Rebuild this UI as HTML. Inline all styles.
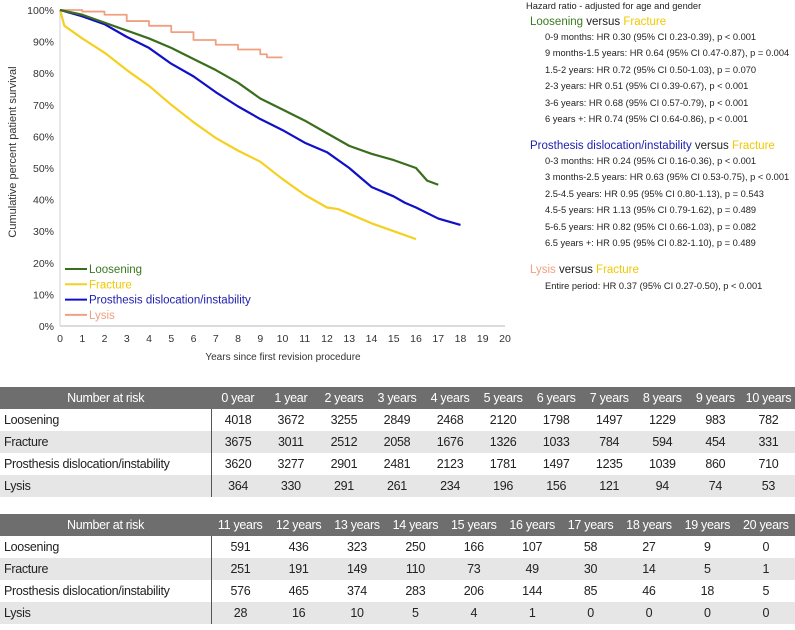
<!DOCTYPE html>
<html><head><meta charset="utf-8">
<style>
body{margin:0;width:795px;height:630px;background:#fff;font-family:"Liberation Sans",sans-serif;overflow:hidden;position:relative}
.rp{position:absolute;left:0;top:0;font-size:9.3px;color:#222;white-space:nowrap}
.rp div{position:absolute}
.h{font-size:11.5px}
table{position:absolute;left:0;border-collapse:collapse;table-layout:fixed;width:795px;font-size:12.5px;letter-spacing:-0.3px;color:#222}
td,th{padding:0;height:22px;text-align:center;white-space:nowrap;overflow:hidden}
th{background:#6e6e6e;color:#fff;font-weight:normal}
td:first-child{text-align:left;padding-left:4px;border-right:1px solid #555}
tr.g td{background:#e6e6e6}
</style></head><body>
<svg id="chart" width="520" height="370" style="position:absolute;left:0;top:0"></svg>

<div class="rp">
<div style="left:526px;top:1px">Hazard ratio - adjusted for age and gender</div>
<div class="h" style="left:530px;top:16px"><span style="color:#3a7a1f">Loosening</span> versus <span style="color:#f0c800">Fracture</span></div>
<div style="left:545px;top:32px">0-9 months: HR 0.30 (95% CI 0.23-0.39), p &lt; 0.001</div>
<div style="left:545px;top:48px">9 months-1.5 years: HR 0.64 (95% CI 0.47-0.87), p = 0.004</div>
<div style="left:545px;top:65px">1.5-2 years: HR 0.72 (95% CI 0.50-1.03), p = 0.070</div>
<div style="left:545px;top:81px">2-3 years: HR 0.51 (95% CI 0.39-0.67), p &lt; 0.001</div>
<div style="left:545px;top:98px">3-6 years: HR 0.68 (95% CI 0.57-0.79), p &lt; 0.001</div>
<div style="left:545px;top:114px">6 years +: HR 0.74 (95% CI 0.64-0.86), p &lt; 0.001</div>
<div class="h" style="left:530px;top:140px"><span style="color:#2020b0">Prosthesis dislocation/instability</span> versus <span style="color:#f0c800">Fracture</span></div>
<div style="left:545px;top:156px">0-3 months: HR 0.24 (95% CI 0.16-0.36), p &lt; 0.001</div>
<div style="left:545px;top:172px">3 months-2.5 years: HR 0.63 (95% CI 0.53-0.75), p &lt; 0.001</div>
<div style="left:545px;top:189px">2.5-4.5 years: HR 0.95 (95% CI 0.80-1.13), p = 0.543</div>
<div style="left:545px;top:205px">4.5-5 years: HR 1.13 (95% CI 0.79-1.62), p = 0.489</div>
<div style="left:545px;top:222px">5-6.5 years: HR 0.82 (95% CI 0.66-1.03), p = 0.082</div>
<div style="left:545px;top:238px">6.5 years +: HR 0.95 (95% CI 0.82-1.10), p = 0.489</div>
<div class="h" style="left:530px;top:264px"><span style="color:#f0a080">Lysis</span> versus <span style="color:#f0c800">Fracture</span></div>
<div style="left:545px;top:281px">Entire period: HR 0.37 (95% CI 0.27-0.50), p &lt; 0.001</div>
</div>

<table style="top:387px">
<colgroup><col style="width:211px"><col span="11" style="width:53px"></colgroup>
<tr><th>Number at risk</th><th>0 year</th><th>1 year</th><th>2 years</th><th>3 years</th><th>4 years</th><th>5 years</th><th>6 years</th><th>7 years</th><th>8 years</th><th>9 years</th><th>10 years</th></tr>
<tr><td>Loosening</td><td>4018</td><td>3672</td><td>3255</td><td>2849</td><td>2468</td><td>2120</td><td>1798</td><td>1497</td><td>1229</td><td>983</td><td>782</td></tr>
<tr class="g"><td>Fracture</td><td>3675</td><td>3011</td><td>2512</td><td>2058</td><td>1676</td><td>1326</td><td>1033</td><td>784</td><td>594</td><td>454</td><td>331</td></tr>
<tr><td>Prosthesis dislocation/instability</td><td>3620</td><td>3277</td><td>2901</td><td>2481</td><td>2123</td><td>1781</td><td>1497</td><td>1235</td><td>1039</td><td>860</td><td>710</td></tr>
<tr class="g"><td>Lysis</td><td>364</td><td>330</td><td>291</td><td>261</td><td>234</td><td>196</td><td>156</td><td>121</td><td>94</td><td>74</td><td>53</td></tr>
</table>

<table style="top:514px">
<colgroup><col style="width:211px"><col span="10" style="width:58.4px"></colgroup>
<tr><th>Number at risk</th><th>11 years</th><th>12 years</th><th>13 years</th><th>14 years</th><th>15 years</th><th>16 years</th><th>17 years</th><th>18 years</th><th>19 years</th><th>20 years</th></tr>
<tr><td>Loosening</td><td>591</td><td>436</td><td>323</td><td>250</td><td>166</td><td>107</td><td>58</td><td>27</td><td>9</td><td>0</td></tr>
<tr class="g"><td>Fracture</td><td>251</td><td>191</td><td>149</td><td>110</td><td>73</td><td>49</td><td>30</td><td>14</td><td>5</td><td>1</td></tr>
<tr><td>Prosthesis dislocation/instability</td><td>576</td><td>465</td><td>374</td><td>283</td><td>206</td><td>144</td><td>85</td><td>46</td><td>18</td><td>5</td></tr>
<tr class="g"><td>Lysis</td><td>28</td><td>16</td><td>10</td><td>5</td><td>4</td><td>1</td><td>0</td><td>0</td><td>0</td><td>0</td></tr>
</table>

<script>
const seriesNames=["Loosening","Fracture","Prosthesis dislocation/instability","Lysis"];
const seriesColors=["#3a6e1e","#f5d020","#1010c8","#f0a080"];
const looseningX=[0,1,2,3,4,5,6,7,8,9,10,11,12,13,14,15,16,16.5,17];
const looseningY=[100,98.5,96,93.5,91,88,84.5,81,77,72,68.5,65,61,57,54.5,52.5,50,46,44.7];
const fractureX=[0,0.2,1,2,3,4,5,6,7,8,9,10,11,12,12.5,13,14,15,16];
const fractureY=[100,95,91,86.5,81,76,70,64.5,59.5,55.5,52,46.5,41.5,37.5,37,35.5,32.5,30,27.5];
const dislocX=[0,1,2,3,4,5,6,7,8,9,10,11,12,13,13.5,14,15,15.5,16,17,18];
const dislocY=[100,98,95.5,91.5,88,83,79,74,69.5,65.5,62,58,55,50,47,44,41,39,37.5,34,32];
const lysisX=[0,1,2,3,4,5,6,7,8,9,9.3,10];
const lysisY=[100,99.5,98.5,96.5,95,93,90.5,89,87.5,86,85,85];
const xTicks=[0,1,2,3,4,5,6,7,8,9,10,11,12,13,14,15,16,17,18,19,20];
const yTicks=[0,10,20,30,40,50,60,70,80,90,100];

const NS="http://www.w3.org/2000/svg";
const svg=document.getElementById("chart");
const X0=60,XS=22.25,Y0=326,YS=3.16;
function sx(v){return X0+v*XS;}
function sy(v){return Y0-v*YS;}
function mk(t,a){const e=document.createElementNS(NS,t);for(const k in a)e.setAttribute(k,a[k]);svg.appendChild(e);return e;}

const ax=mk("line",{x1:sx(0),y1:sy(0),x2:sx(20),y2:sy(0),stroke:"#d0d0d0","stroke-width":1.5});


const ay=mk("line",{x1:sx(0),y1:sy(0),x2:sx(0),y2:sy(100),stroke:"#d0d0d0","stroke-width":1});


xTicks.forEach(t=>{
  const e=mk("text",{x:sx(t),y:sy(0)+16,"text-anchor":"middle","font-size":"10.5","fill":"#333"});
  e.textContent=t;
  
  
});
yTicks.forEach(t=>{
  const e=mk("text",{x:54,y:sy(t)+4,"text-anchor":"end","font-size":"10.5","fill":"#333"});
  e.textContent=t+"%";
  
  
});
const yt=mk("text",{x:0,y:0,transform:"translate(16,152) rotate(-90)","text-anchor":"middle","font-size":"11","fill":"#333"});
yt.textContent="Cumulative percent patient survival";


const xt=mk("text",{x:283,y:360,"text-anchor":"middle","font-size":"10","fill":"#333"});
xt.textContent="Years since first revision procedure";



const allX=[looseningX,fractureX,dislocX,lysisX],allY=[looseningY,fractureY,dislocY,lysisY];
const order=[3,1,2,0];
order.forEach(i=>{
  let d="M"+sx(allX[i][0])+","+sy(allY[i][0]);
  for(let j=1;j<allX[i].length;j++){
    if(i===3){d+=" L"+sx(allX[i][j])+","+sy(allY[i][j-1])+" L"+sx(allX[i][j])+","+sy(allY[i][j]);}
    else d+=" L"+sx(allX[i][j])+","+sy(allY[i][j]);
  }
  const p=mk("path",{d:d,fill:"none",stroke:seriesColors[i],"stroke-width":i===3?1.8:2.2,"stroke-linejoin":"round"});
  
  
});
seriesNames.forEach((n,i)=>{
  const y=269+i*15.3;
  const l=mk("line",{x1:65,y1:y,x2:87,y2:y,stroke:seriesColors[i],"stroke-width":2});
  
  
  const t=mk("text",{x:89,y:y+4,"font-size":"11.5",fill:i===0?"#3a7a1f":(i===1?"#f0c800":(i===2?"#2020b0":"#f0a080"))});
  t.textContent=n;
  
  
});
</script>
</body></html>
